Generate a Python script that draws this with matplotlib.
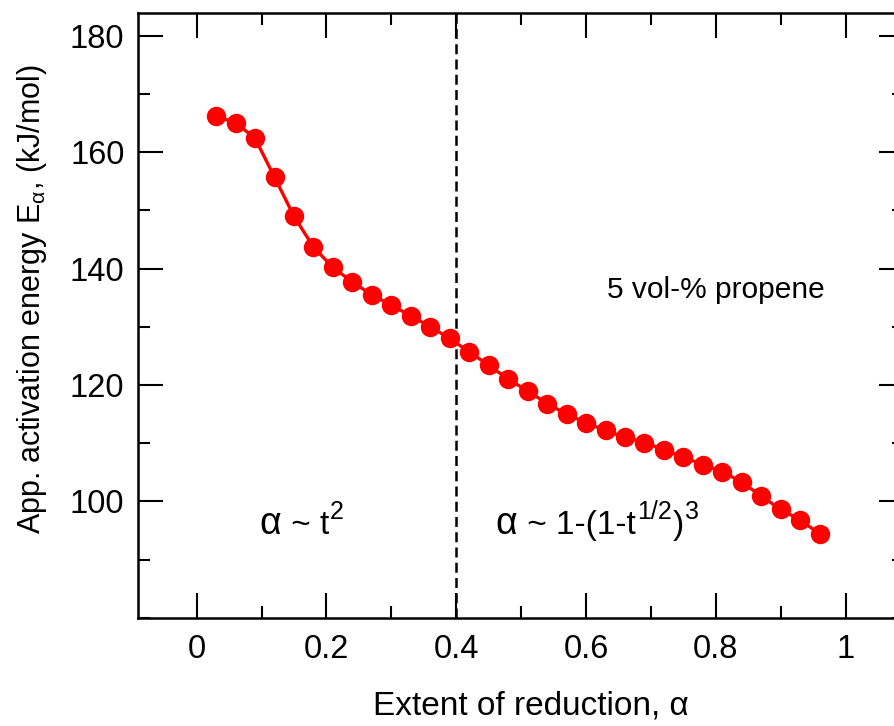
import matplotlib
matplotlib.use("Agg")
import matplotlib.pyplot as plt
from matplotlib.ticker import MultipleLocator

plt.rcParams["font.family"] = ["Liberation Sans", "DejaVu Sans"]
plt.rcParams["mathtext.fontset"] = "custom"
plt.rcParams["mathtext.rm"] = "Liberation Sans"
plt.rcParams["mathtext.it"] = "Liberation Sans"
plt.rcParams["mathtext.sf"] = "Liberation Sans"

# Extent of reduction and apparent activation energy (kJ/mol)
alpha = [0.03, 0.06, 0.09, 0.12, 0.15, 0.18, 0.21, 0.24, 0.27, 0.30, 0.33,
         0.36, 0.39, 0.42, 0.45, 0.48, 0.51, 0.54, 0.57, 0.60, 0.63, 0.66,
         0.69, 0.72, 0.75, 0.78, 0.81, 0.84, 0.87, 0.90, 0.93, 0.96]
energy = [166.2, 165.1, 162.4, 155.7, 149.0, 143.7, 140.2, 137.7, 135.5,
          133.7, 131.9, 130.0, 128.0, 125.7, 123.4, 121.0, 119.0, 116.8,
          115.0, 113.5, 112.2, 111.0, 110.1, 108.9, 107.6, 106.3, 105.1,
          103.3, 100.9, 98.6, 96.8, 94.4]
boundary = 0.4

xticks = [0, 0.2, 0.4, 0.6, 0.8, 1.0]
xticklabels = ["0", "0.2", "0.4", "0.6", "0.8", "1"]
yticks = [100, 120, 140, 160, 180]

DPI = 100
fig = plt.figure(figsize=(8.95, 7.26), dpi=DPI)
ax = fig.add_axes([0.1545, 0.1492, 0.8556, 0.8333])

ax.plot(alpha, energy, color="#ff0000", lw=2.4, marker="o", ms=14,
        markeredgewidth=0, zorder=3)
ax.axvline(boundary, color="black", lw=1.8, dashes=(4, 2.1), zorder=2)

ax.set_xlim(-0.09, 1.09)
ax.set_ylim(80, 184)
ax.set_xticks(xticks)
ax.set_xticklabels(xticklabels)
ax.set_yticks(yticks)
ax.xaxis.set_minor_locator(MultipleLocator(0.1))
ax.yaxis.set_minor_locator(MultipleLocator(10))

ax.tick_params(which="both", direction="in", top=True, right=True,
               width=1.5, labelsize=23.5, color="black")
ax.tick_params(which="major", length=18)
ax.tick_params(which="minor", length=8.5)
ax.tick_params(axis="x", which="major", pad=12)
ax.tick_params(axis="y", which="major", pad=10)
for sp in ax.spines.values():
    sp.set_linewidth(1.8)

ax.set_xlabel("Extent of reduction, α", fontsize=24)
ax.set_ylabel("App. activation energy E$_{\\alpha}$, (kJ/mol)", fontsize=22)
ax.xaxis.set_label_coords(0.513, -0.12)
ax.yaxis.set_label_coords(-0.117, 0.526)

renderer = fig.canvas.get_renderer()


def rich_label(x, y, pieces):
    """Write (text, size, rise) pieces one after another on one baseline."""
    dx = 0.0
    for s, size, rise in pieces:
        t = ax.annotate(s, xy=(x, y), xycoords="data",
                        xytext=(dx, rise), textcoords="offset points",
                        fontsize=size, va="baseline", ha="left")
        w = t.get_window_extent(renderer).width
        dx += w * 72.0 / DPI + 0.8


rich_label(0.096, 94.4, [("α", 27, 0), (" ~ t", 24, 0), ("2", 18, 11)])
rich_label(0.46, 94.4, [("α", 27, 0), (" ~ 1-(1-t", 24, 0), ("1/2", 18, 11),
                        (")", 24, 0), ("3", 18, 11)])
ax.text(0.633, 135.0, "5 vol-% propene", fontsize=21.5, va="baseline",
        ha="left")

fig.savefig("out.png", dpi=DPI)
